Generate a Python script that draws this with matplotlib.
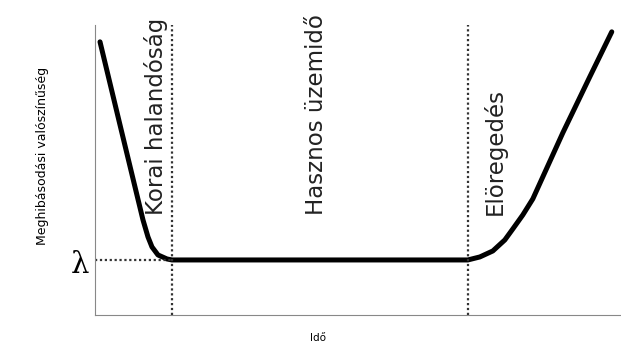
import matplotlib.pyplot as plt

# bathtub curve (time, failure rate)
time = [5, 25, 40, 48, 53, 57, 63, 72, 77, 200, 373, 385, 398, 410, 418, 428, 438, 468, 495, 517]
rate = [273, 190, 128, 95, 78, 68, 60, 56, 55, 55, 55, 58, 64, 75, 86, 100, 116, 182, 238, 283]

lam = 55
phase_edges = [77, 373]
phase_labels = ['Korai halandóság', 'Hasznos üzemidő', 'Elöregedés']
phase_x = [61, 222, 400]

fig = plt.figure(figsize=(6.21, 3.45), dpi=100)
ax = fig.add_axes([0.153, 0.087, 0.845, 0.841])
ax.set_xlim(0, 525)
ax.set_ylim(0, 290)

ax.plot(time, rate, color='black', lw=3.6, solid_capstyle='round', solid_joinstyle='round')

for x in phase_edges:
    ax.plot([x, x], [0, 290], color='#333333', lw=1.6, ls=(0, (1, 1.2)))
ax.plot([0, phase_edges[0]], [lam, lam], color='#333333', lw=1.6, ls=(0, (1, 1.2)))

for x, t in zip(phase_x, phase_labels):
    ax.text(x, 100, t, rotation=90, ha='center', va='bottom', fontsize=16.5, color='#222222')

ax.text(-6, lam - 5, 'λ', ha='right', va='center', fontsize=21, family='DejaVu Serif')

for s in ['top', 'right']:
    ax.spines[s].set_visible(False)
for s in ['left', 'bottom']:
    ax.spines[s].set_color('#888888')
ax.set_xticks([])
ax.set_yticks([])

ax.set_ylabel('Meghibásodási valószínűség', fontsize=9)
ax.yaxis.set_label_coords(-0.088, 0.548)
ax.set_xlabel('Idő', fontsize=7.5)
ax.xaxis.set_label_coords(0.425, -0.062)

fig.savefig('out.png', dpi=100)
